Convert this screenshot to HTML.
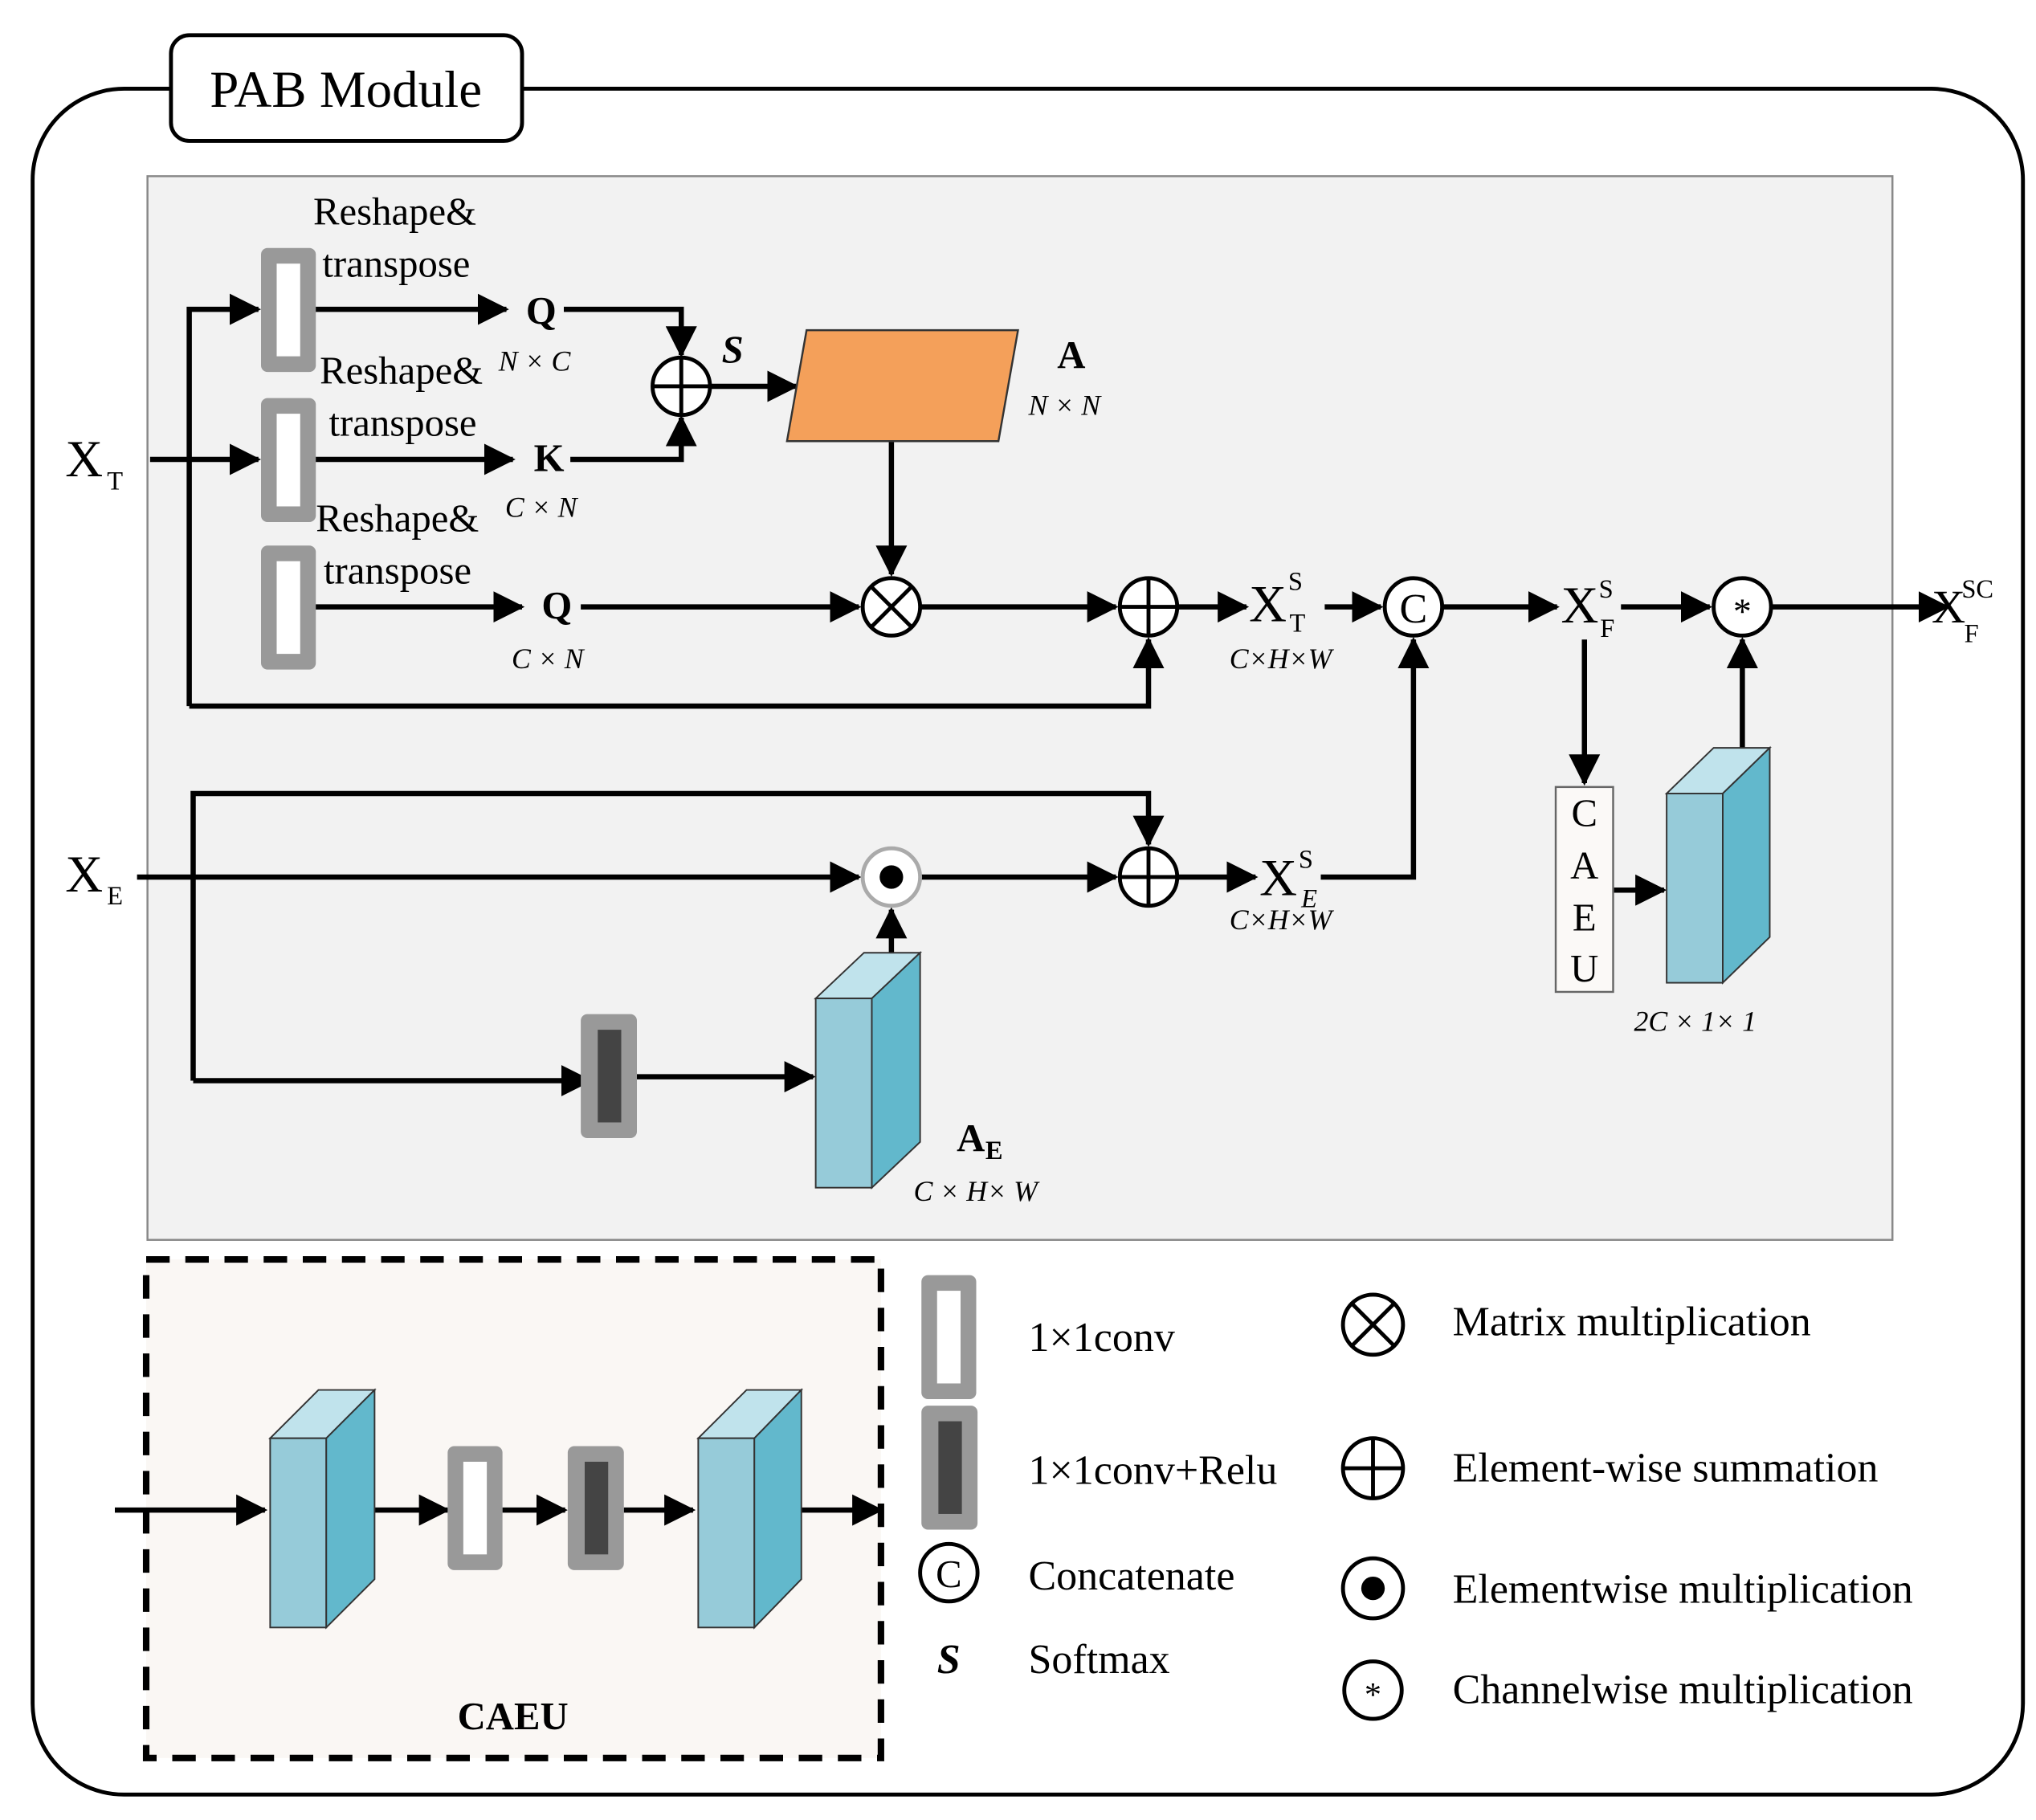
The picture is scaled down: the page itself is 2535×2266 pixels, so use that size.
<!DOCTYPE html>
<html><head><meta charset="utf-8"><style>html,body{margin:0;padding:0;background:#fff}svg{display:block}text{font-family:"Liberation Serif",serif}</style></head><body>
<svg width="2535" height="2266" viewBox="0 0 1560 1394.5" preserveAspectRatio="none" xmlns="http://www.w3.org/2000/svg">
<defs>
<marker id="a" markerWidth="6" markerHeight="6" refX="5.5" refY="3" orient="auto" markerUnits="strokeWidth"><path d="M0,0 L6,3 L0,6 z" fill="#000"/></marker>
<g id="cw"><rect x="0" y="0" width="42" height="95" rx="5" fill="#999"/><rect x="12" y="12" width="18" height="71" fill="#fff"/></g>
<g id="cd"><rect x="0" y="0" width="43" height="95" rx="5" fill="#999"/><rect x="13" y="12" width="18" height="71" fill="#444"/></g>
</defs>
<rect x="25" y="68" width="1525" height="1307" rx="70" fill="#fff" stroke="#000" stroke-width="3"/>
<rect x="131" y="27" width="269" height="81" rx="14" fill="#fff" stroke="#000" stroke-width="3"/>
<text x="265" y="82" font-size="40" text-anchor="middle">PAB Module</text>
<rect x="113" y="135" width="1337" height="815" fill="#f2f2f2" stroke="#888" stroke-width="1.5"/>

<g stroke="#000" stroke-width="4" fill="none" stroke-linejoin="miter">
<path d="M115,352 H198" marker-end="url(#a)"/>
<path d="M145,541 V237 H198" marker-end="url(#a)"/>
<path d="M145,541 H880 V490" marker-end="url(#a)"/>
<path d="M232,237 H388" marker-end="url(#a)"/>
<path d="M432,237 H522 V272" marker-end="url(#a)"/>
<path d="M232,352 H393" marker-end="url(#a)"/>
<path d="M437,352 H522 V320" marker-end="url(#a)"/>
<path d="M544,296 H610" marker-end="url(#a)"/>
<path d="M683,338 V440" marker-end="url(#a)"/>
<path d="M232,465 H400" marker-end="url(#a)"/>
<path d="M445,465 H658" marker-end="url(#a)"/>
<path d="M706,465 H855" marker-end="url(#a)"/>
<path d="M903,465 H955" marker-end="url(#a)"/>
<path d="M1015,465 H1058" marker-end="url(#a)"/>
<path d="M1106,465 H1193" marker-end="url(#a)"/>
<path d="M1242,465 H1310" marker-end="url(#a)"/>
<path d="M1358,465 H1492" marker-end="url(#a)"/>
<path d="M105,672 H658" marker-end="url(#a)"/>
<path d="M706,672 H855" marker-end="url(#a)"/>
<path d="M903,672 H962" marker-end="url(#a)"/>
<path d="M1012,672 H1083 V490" marker-end="url(#a)"/>
<path d="M148,828 V608 H880 V647" marker-end="url(#a)"/>
<path d="M148,828 H452" marker-end="url(#a)"/>
<path d="M480,825 H623" marker-end="url(#a)"/>
<path d="M683,730 V697" marker-end="url(#a)"/>
<path d="M1214,490 V600" marker-end="url(#a)"/>
<path d="M1236,682 H1275" marker-end="url(#a)"/>
<path d="M1335,573 V490" marker-end="url(#a)"/>
</g>

<use href="#cw" x="200" y="190"/><use href="#cw" x="200" y="305"/><use href="#cw" x="200" y="418"/>
<use href="#cd" x="445" y="777"/>

<polygon points="618,253 780,253 765,338 603,338" fill="#f4a05a" stroke="#333" stroke-width="1.5"/>

<g fill="#fff" stroke="#000" stroke-width="3">
<circle cx="522" cy="296" r="22"/><circle cx="683" cy="465" r="22"/><circle cx="880" cy="465" r="22"/>
<circle cx="1083" cy="465" r="22"/><circle cx="1335" cy="465" r="22"/><circle cx="880" cy="672" r="22"/>
<circle cx="683" cy="672" r="22" stroke="#aaa"/>
</g>
<g stroke="#000" stroke-width="3">
<path d="M500,296 H544 M522,274 V318"/><path d="M868,465 H902 M880,443 V487 M858,465 H902"/>
<path d="M858,672 H902 M880,650 V694"/>
<path d="M667,449 L699,481 M699,449 L667,481"/>
</g>
<circle cx="683" cy="672" r="9" fill="#000"/>
<text x="1083" y="477" font-size="32" text-anchor="middle">C</text>
<text x="1335" y="478" font-size="28" text-anchor="middle">*</text>

<!-- cuboids -->
<g stroke="#333" stroke-width="1.2">
<polygon points="625,765 662,730 705,730 668,765" fill="#c0e3ec"/><rect x="625" y="765" width="43" height="145" fill="#96cbd9"/><polygon points="668,765 705,730 705,875 668,910" fill="#62b8cc"/>
<polygon points="1277,608 1313,573 1356,573 1320,608" fill="#c0e3ec"/><rect x="1277" y="608" width="43" height="145" fill="#96cbd9"/><polygon points="1320,608 1356,573 1356,718 1320,753" fill="#62b8cc"/>
</g>
<rect x="1192" y="603" width="44" height="157" fill="#fbf9f7" stroke="#666" stroke-width="1.5"/>
<g font-size="30" text-anchor="middle"><text x="1214" y="633">C</text><text x="1214" y="673">A</text><text x="1214" y="713">E</text><text x="1214" y="752">U</text></g>

<g font-size="30">
<text x="240" y="172">Reshape&amp;</text><text x="247" y="212">transpose</text>
<text x="245" y="294">Reshape&amp;</text><text x="252" y="334">transpose</text>
<text x="242" y="407">Reshape&amp;</text><text x="248" y="447">transpose</text>
<text x="403" y="248" font-weight="bold">Q</text><text x="409" y="361" font-weight="bold">K</text><text x="415" y="474" font-weight="bold">Q</text>
<text x="553" y="278" font-weight="bold" font-style="italic">S</text>
<text x="810" y="282" font-weight="bold">A</text>
<text x="50" y="365" font-size="40">X</text><text x="82" y="375" font-size="20">T</text>
<text x="50" y="683" font-size="40">X</text><text x="82" y="693" font-size="20">E</text>
<text x="957" y="476" font-size="40">X</text><text x="987" y="452" font-size="20">S</text><text x="988" y="484" font-size="20">T</text>
<text x="965" y="686" font-size="40">X</text><text x="995" y="665" font-size="20">S</text><text x="997" y="695" font-size="20" font-style="italic">E</text>
<text x="1196" y="477" font-size="40">X</text><text x="1225" y="458" font-size="20">S</text><text x="1226" y="488" font-size="20">F</text>
<text x="1480" y="477" font-size="36">X</text><text x="1503" y="458" font-size="20">SC</text><text x="1505" y="492" font-size="20">F</text>
<text x="733" y="882" font-weight="bold">A</text><text x="755" y="888" font-size="20" font-weight="bold">E</text>
</g>
<g font-size="22" font-style="italic">
<text x="382" y="284">N × C</text><text x="387" y="396">C × N</text><text x="392" y="512">C × N</text>
<text x="788" y="318">N × N</text>
<text x="942" y="512">C×H×W</text><text x="942" y="712">C×H×W</text>
<text x="700" y="920">C × H× W</text>
<text x="1252" y="790">2C × 1× 1</text>
<text x="223" y="1042">C × 1× 1</text><text x="536" y="1042">C × 1× 1</text>
</g>

<!-- CAEU box -->
<rect x="112" y="965" width="563" height="382" fill="#faf7f4" stroke="#000" stroke-width="5" stroke-dasharray="18 12"/>
<g stroke="#000" stroke-width="4" fill="none">
<path d="M88,1157 H203" marker-end="url(#a)"/>
<path d="M287,1157 H343" marker-end="url(#a)"/>
<path d="M385,1157 H433" marker-end="url(#a)"/>
<path d="M478,1157 H531" marker-end="url(#a)"/>
<path d="M614,1157 H675" marker-end="url(#a)"/>
</g>
<g stroke="#333" stroke-width="1.2">
<polygon points="207,1102 244,1065 287,1065 250,1102" fill="#c0e3ec"/><rect x="207" y="1102" width="43" height="145" fill="#96cbd9"/><polygon points="250,1102 287,1065 287,1210 250,1247" fill="#62b8cc"/>
<polygon points="535,1102 572,1065 614,1065 578,1102" fill="#c0e3ec"/><rect x="535" y="1102" width="43" height="145" fill="#96cbd9"/><polygon points="578,1102 614,1065 614,1210 578,1247" fill="#62b8cc"/>
</g>
<use href="#cw" x="343" y="1108"/><use href="#cd" x="435" y="1108"/>
<text x="393" y="1325" font-size="30" font-weight="bold" text-anchor="middle">CAEU</text>

<!-- legend -->
<use href="#cw" x="706" y="977"/><use href="#cd" x="706" y="1077"/>
<g font-size="32">
<text x="788" y="1035">1×1conv</text><text x="788" y="1137">1×1conv+Relu</text>
<text x="788" y="1218">Concatenate</text><text x="788" y="1282">Softmax</text>
<text x="718" y="1282" font-weight="bold" font-style="italic">S</text>
<text x="1113" y="1023">Matrix multiplication</text><text x="1113" y="1135">Element-wise summation</text>
<text x="1113" y="1228">Elementwise multiplication</text><text x="1113" y="1305">Channelwise multiplication</text>
</g>
<g fill="#fff" stroke="#000" stroke-width="3">
<circle cx="727" cy="1205" r="22"/><circle cx="1052" cy="1015" r="23"/><circle cx="1052" cy="1125" r="23"/><circle cx="1052" cy="1217" r="23"/><circle cx="1052" cy="1295" r="22"/>
</g>
<g stroke="#000" stroke-width="3"><path d="M1036,999 L1068,1031 M1068,999 L1036,1031"/><path d="M1029,1125 H1075 M1052,1102 V1148"/></g>
<circle cx="1052" cy="1217" r="9" fill="#000"/>
<text x="727" y="1216" font-size="30" text-anchor="middle">C</text>
<text x="1052" y="1307" font-size="26" text-anchor="middle">*</text>
</svg>
</body></html>
